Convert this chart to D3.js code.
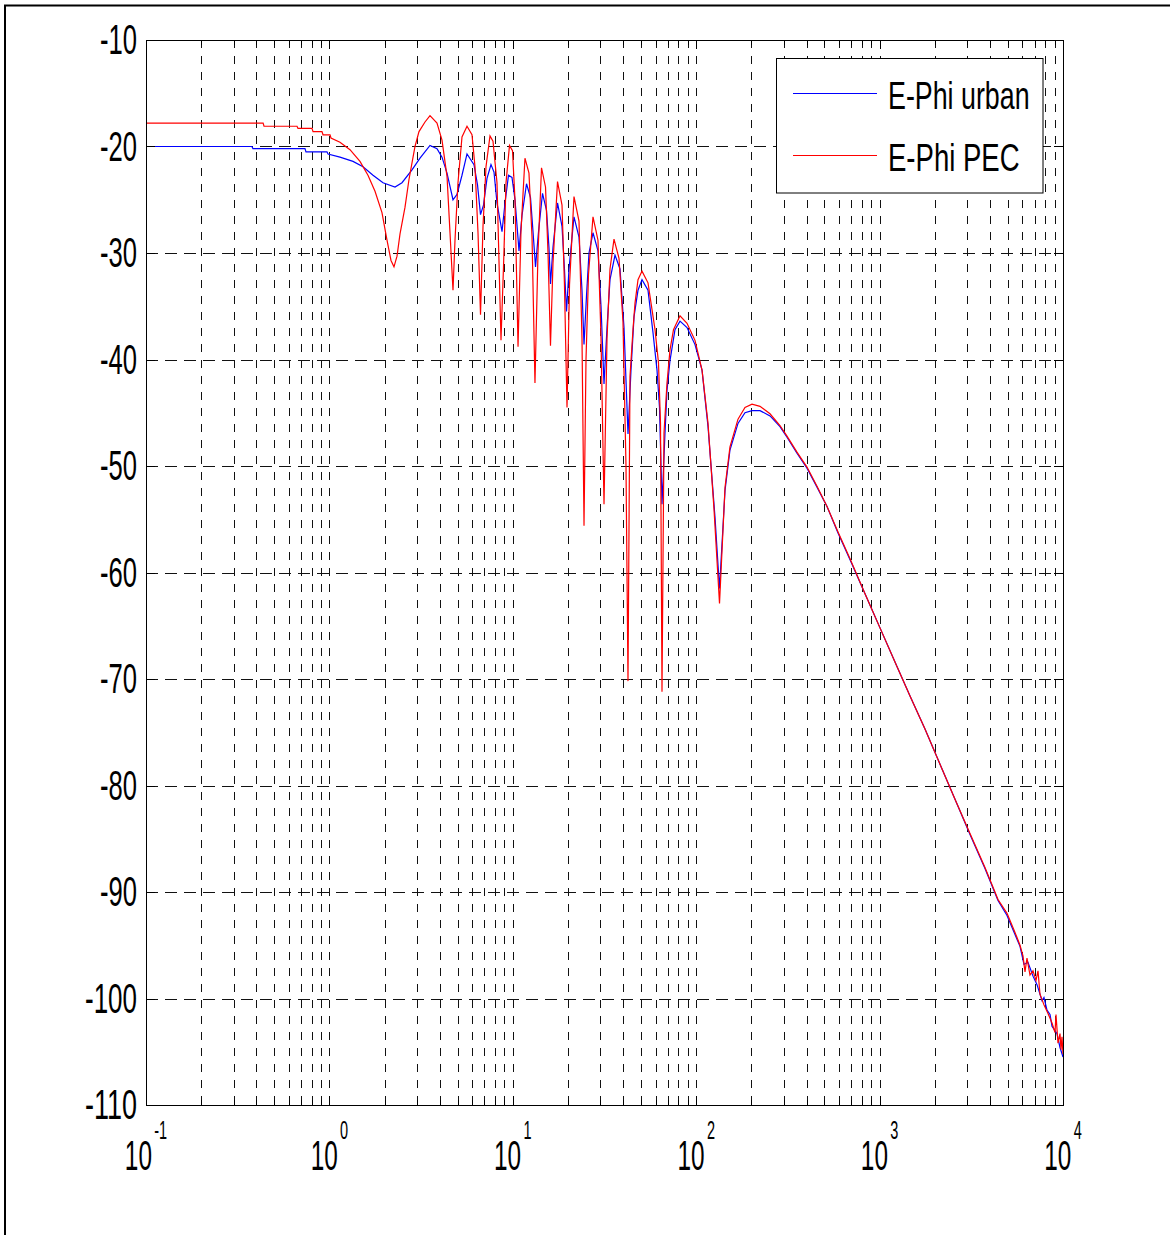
<!DOCTYPE html>
<html>
<head>
<meta charset="utf-8">
<script src="https://cdnjs.cloudflare.com/ajax/libs/d3/7.8.5/d3.min.js"></script>
<style>
  body { margin: 0; background: #fff; }
  svg { display: block; }
  text { font-family: "Liberation Sans", Arial, sans-serif; fill: #000; }
</style>
</head>
<body>
<svg id="chart" width="1170" height="1235"></svg>
<script>
// E-Phi urban (blue)
var urbanFreq = [0.1, 0.378, 0.383, 0.736, 0.745, 0.970, 0.983, 1.142, 1.345, 1.525, 1.729, 1.960, 2.279, 2.488,
  2.821, 3.119, 3.536, 3.861, 4.111, 4.378, 4.720, 4.963, 5.284, 5.627, 6.144, 6.421, 6.667, 6.922, 7.233, 7.605,
  7.897, 8.200, 8.733, 9.068, 9.475, 9.899, 10.28, 10.81, 11.22, 11.88, 12.49, 12.89, 13.30, 13.81, 14.52, 15.27,
  15.75, 16.05, 16.56, 17.53, 18.55, 19.13, 19.63, 20.25, 21.56, 22.96, 23.84, 24.45, 25.23, 26.03, 27.37, 29.14,
  30.27, 31.43, 32.64, 33.88, 36.08, 38.42, 40.40, 42.48, 44.10, 45.80, 48.16, 50.64, 54.60, 58.15, 61.14, 63.08,
  65.09, 67.59, 69.31, 71.96, 76.62, 81.60, 89.10, 98.51, 107.6, 116.0, 126.6, 134.0, 143.6, 152.8, 169.0, 184.5,
  201.5, 222.8, 252.6, 286.3, 312.7, 354.4, 401.9, 455.8, 516.8, 593.3, 689.9, 832.6, 1005, 1213, 1465, 1768, 2135,
  2577, 3111, 3755, 4422, 4952, 5474, 5829, 6128, 6443, 6862, 7215, 7681, 7876, 8180, 8495, 8710, 9275, 9630, 10000];
var urbanDb = [-20.0, -20.0, -20.2, -20.2, -20.5, -20.5, -20.7, -21.0, -21.4, -21.9, -22.7, -23.4, -23.8, -23.4,
  -22.2, -21.1, -19.9, -20.2, -21.0, -22.5, -25.0, -24.5, -22.7, -20.7, -21.7, -23.6, -26.4, -25.5, -23.0, -21.7,
  -22.4, -25.3, -28.0, -25.3, -22.7, -22.9, -25.0, -29.8, -26.5, -23.5, -24.8, -28.0, -31.3, -28.0, -24.4, -26.0,
  -29.5, -32.9, -29.5, -25.3, -27.5, -31.5, -35.5, -31.5, -26.6, -28.5, -33.5, -38.6, -34.0, -30.0, -28.1, -29.8,
  -35.0, -42.3, -37.0, -32.5, -30.2, -31.5, -37.0, -47.0, -41.0, -36.0, -33.5, -32.5, -33.5, -37.5, -41.0, -44.5,
  -53.6, -46.9, -42.9, -40.1, -37.2, -36.4, -37.0, -38.6, -41.0, -46.3, -54.8, -61.5, -52.3, -48.5, -46.0, -45.0,
  -44.8, -44.8, -45.3, -46.3, -47.3, -48.8, -50.2, -52.0, -53.8, -56.3, -58.8, -62.0, -65.2, -68.4, -71.6, -74.7, -78.0,
  -81.3, -84.6, -87.8, -90.8, -92.2, -94.0, -95.1, -96.8, -96.6, -97.9, -98.7, -100.2, -99.9, -101.1, -101.5, -102.6, -103.3, -104.6, -105.5];

// E-Phi PEC (red)
var pecFreq = [0.1, 0.435, 0.440, 0.666, 0.674, 0.804, 0.814, 0.911, 0.923, 1.008, 1.02, 1.142, 1.295, 1.468, 1.623,
  1.773, 1.935, 2.061, 2.167, 2.250, 2.337, 2.427, 2.584, 2.716, 2.929, 3.080, 3.321, 3.536, 3.861, 4.111, 4.378,
  4.546, 4.720, 4.840, 5.025, 5.284, 5.627, 5.991, 6.221, 6.461, 6.667, 6.879, 7.143, 7.510, 7.798, 8.200, 8.623,
  8.899, 9.182, 9.594, 9.962, 10.28, 10.68, 11.08, 11.65, 12.25, 12.73, 13.21, 13.72, 14.34, 15.08, 15.56, 16.05,
  16.56, 17.53, 18.55, 19.13, 19.75, 20.38, 21.56, 22.96, 23.84, 24.45, 25.07, 25.87, 27.37, 29.14, 30.27, 31.43,
  32.64, 33.88, 35.63, 37.94, 39.89, 41.42, 42.48, 43.55, 45.22, 46.38, 48.16, 50.64, 54.60, 59.63, 62.29, 63.88,
  65.09, 66.74, 69.31, 71.96, 75.19, 81.60, 89.10, 98.51, 107.6, 116.0, 125.0, 134.0, 143.6, 152.8, 169.0, 184.5,
  201.5, 222.8, 252.6, 286.3, 312.7, 354.4, 401.9, 455.8, 516.8, 593.3, 689.9, 832.6, 1005, 1213, 1465, 1768, 2135,
  2577, 3111, 3755, 4422, 4952, 5474, 5829, 6051, 6206, 6363, 6607, 6862, 7125, 7306, 7490, 7876, 8283, 8710, 9046,
  9158, 9391, 9630, 9752, 9874, 10000];
var pecDb = [-17.8, -17.8, -18.1, -18.1, -18.3, -18.3, -18.6, -18.6, -18.9, -18.9, -19.2, -19.6, -20.3, -21.4, -22.7,
  -24.2, -26.2, -28.8, -30.7, -31.3, -30.3, -28.2, -25.7, -23.1, -20.0, -18.6, -17.7, -17.1, -17.8, -19.4, -22.8,
  -28.1, -33.5, -28.8, -23.4, -19.1, -18.1, -18.9, -21.9, -28.1, -35.8, -27.5, -21.9, -19.0, -19.5, -23.4, -38.2,
  -31.3, -23.4, -19.9, -20.4, -25.0, -38.8, -28.0, -21.1, -22.5, -28.5, -42.2, -30.0, -22.0, -23.8, -30.0, -38.7,
  -31.0, -23.3, -25.5, -33.0, -44.5, -33.0, -24.7, -27.0, -38.0, -55.6, -40.0, -32.0, -26.6, -28.8, -38.0, -53.6,
  -38.0, -31.5, -28.7, -30.5, -36.5, -50.0, -70.2, -41.6, -37.2, -34.7, -32.5, -31.7, -32.8, -37.2, -40.3, -46.0,
  -71.2, -46.9, -42.2, -39.1, -37.2, -35.9, -36.6, -38.2, -41.0, -46.0, -54.0, -62.9, -52.0, -48.2, -45.6, -44.5,
  -44.2, -44.4, -45.1, -46.2, -47.2, -48.7, -50.1, -51.9, -53.8, -56.2, -58.7, -62.0, -65.2, -68.4, -71.6, -74.7, -78.0,
  -81.3, -84.5, -87.7, -90.7, -92.0, -93.8, -95.0, -96.0, -97.5, -96.2, -97.8, -97.4, -98.3, -97.4, -99.6, -100.6, -101.4, -102.3, -103.2,
  -101.5, -104.2, -103.3, -104.8, -103.6, -105.2];

var yTicks = [-10, -20, -30, -40, -50, -60, -70, -80, -90, -100, -110];
var xDecades = [-1, 0, 1, 2, 3, 4];
var legendLabels = ["E-Phi urban", "E-Phi PEC"];
var seriesColors = ["#0000ff", "#ff0000"];

var svg = d3.select("#chart");

// axes box in pixels
var boxLeft = 146, boxRight = 1063, boxTop = 40, boxBottom = 1105;

var x = d3.scaleLog().domain([0.1, 10000]).range([boxLeft, boxRight]);
var y = d3.scaleLinear().domain([-110, -10]).range([boxBottom, boxTop]);

// outer frame of the figure (only top and left show)
svg.append("line").attr("x1", 4).attr("x2", 1170).attr("y1", 5.5).attr("y2", 5.5)
  .attr("stroke", "#000").attr("stroke-width", 2);
svg.append("line").attr("x1", 5).attr("x2", 5).attr("y1", 5).attr("y2", 1235)
  .attr("stroke", "#000").attr("stroke-width", 2);

// all the log positions 1..9 per decade
var xGrid = [];
for (var k = -1; k < 4; k++) {
  for (var d = 1; d < 10; d++) {
    xGrid.push(d * Math.pow(10, k));
  }
}
xGrid.push(10000);

var grid = svg.append("g").attr("class", "grid");

grid.selectAll(".vgrid")
  .data(xGrid.filter(function(v) { return v > 0.1 && v < 10000; }))
  .enter().append("line")
    .attr("class", "vgrid")
    .attr("x1", function(v) { return Math.round(x(v)) + 0.5; })
    .attr("x2", function(v) { return Math.round(x(v)) + 0.5; })
    .attr("y1", boxTop).attr("y2", boxBottom)
    .attr("stroke", "#111").attr("stroke-width", 1)
    .attr("stroke-dasharray", "8,8");

grid.selectAll(".hgrid")
  .data(yTicks.filter(function(v) { return v > -110 && v < -10; }))
  .enter().append("line")
    .attr("class", "hgrid")
    .attr("x1", boxLeft).attr("x2", boxRight)
    .attr("y1", function(v) { return Math.round(y(v)) + 0.5; })
    .attr("y2", function(v) { return Math.round(y(v)) + 0.5; })
    .attr("stroke", "#111").attr("stroke-width", 1)
    .attr("stroke-dasharray", "12,7");

// curves, clipped to the axes box
svg.append("clipPath").attr("id", "plotclip")
  .append("rect").attr("x", boxLeft).attr("y", boxTop)
  .attr("width", boxRight - boxLeft).attr("height", boxBottom - boxTop);

var line = d3.line()
  .x(function(p) { return x(p[0]); })
  .y(function(p) { return y(p[1]); });

var curves = svg.append("g").attr("clip-path", "url(#plotclip)");
curves.append("path")
  .datum(d3.zip(urbanFreq, urbanDb))
  .attr("d", line)
  .attr("fill", "none").attr("stroke", seriesColors[0]).attr("stroke-width", 1.2);
curves.append("path")
  .datum(d3.zip(pecFreq, pecDb))
  .attr("d", line)
  .attr("fill", "none").attr("stroke", seriesColors[1]).attr("stroke-width", 1.2);

// ticks inside the box
var ticks = svg.append("g").attr("stroke", "#000").attr("stroke-width", 1);
xGrid.forEach(function(v) {
  var px = Math.round(x(v)) + 0.5;
  var len = (Math.abs(Math.log10(v) - Math.round(Math.log10(v))) < 1e-9) ? 9 : 5;
  ticks.append("line").attr("x1", px).attr("x2", px).attr("y1", boxBottom).attr("y2", boxBottom - len);
  ticks.append("line").attr("x1", px).attr("x2", px).attr("y1", boxTop).attr("y2", boxTop + len);
});
yTicks.forEach(function(v) {
  var py = Math.round(y(v)) + 0.5;
  ticks.append("line").attr("x1", boxLeft).attr("x2", boxLeft + 9).attr("y1", py).attr("y2", py);
  ticks.append("line").attr("x1", boxRight).attr("x2", boxRight - 9).attr("y1", py).attr("y2", py);
});

// box
svg.append("rect")
  .attr("x", boxLeft + 0.5).attr("y", boxTop + 0.5)
  .attr("width", boxRight - boxLeft).attr("height", boxBottom - boxTop)
  .attr("fill", "none").attr("stroke", "#000").attr("stroke-width", 1);

// y labels
svg.selectAll(".ylabel")
  .data(yTicks)
  .enter().append("text")
    .attr("class", "ylabel")
    .attr("x", 137)
    .attr("y", function(v) { return y(v) + 14; })
    .attr("text-anchor", "end")
    .attr("font-size", 42)
    .attr("textLength", function(v) { return v <= -100 ? 52 : 37; })
    .attr("lengthAdjust", "spacingAndGlyphs")
    .text(function(v) { return String(v); });

// x labels: one text per tick, "10" plus a raised exponent, squeezed like the original
xDecades.forEach(function(e) {
  var lbl = svg.append("text")
    .attr("transform", "translate(" + x(Math.pow(10, e)) + ",1170) scale(0.58,1)")
    .attr("text-anchor", "middle")
    .attr("font-size", 42);
  lbl.append("tspan").text("10");
  lbl.append("tspan")
    .attr("dx", 4).attr("dy", -31)
    .attr("font-size", 25)
    .text(String(e));
});

// legend
var legend = svg.append("g");
legend.append("rect")
  .attr("x", 776.5).attr("y", 58.5).attr("width", 266.5).attr("height", 134.5)
  .attr("fill", "#fff").attr("stroke", "#000").attr("stroke-width", 1);
var legendY = [93.5, 155.5];
var legendW = [141.6, 131.6];
legendLabels.forEach(function(lbl, i) {
  legend.append("line")
    .attr("x1", 793).attr("x2", 877)
    .attr("y1", legendY[i]).attr("y2", legendY[i])
    .attr("stroke", seriesColors[i]).attr("stroke-width", 1);
  legend.append("text")
    .attr("x", 888).attr("y", legendY[i] + 15.5)
    .attr("font-size", 39)
    .attr("textLength", legendW[i]).attr("lengthAdjust", "spacingAndGlyphs")
    .text(lbl);
});
</script>
</body>
</html>
